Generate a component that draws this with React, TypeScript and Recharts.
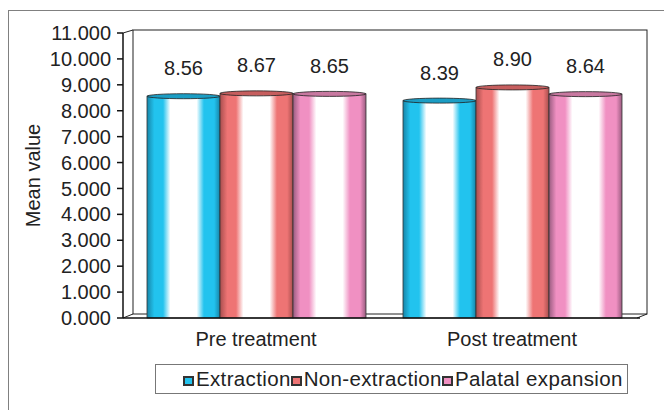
import React from 'react';
import { BarChart, Bar, XAxis, YAxis, LabelList } from 'recharts';

const categories = ['Pre treatment', 'Post treatment'];
const extraction = [8.56, 8.39];
const nonExtraction = [8.67, 8.9];
const palatalExpansion = [8.65, 8.64];
const yTicks = [0, 1, 2, 3, 4, 5, 6, 7, 8, 9, 10, 11];

const data = categories.map((name, i) => ({
  name,
  extraction: extraction[i],
  nonExtraction: nonExtraction[i],
  palatal: palatalExpansion[i],
}));

const SERIES = [
  { key: 'extraction', label: 'Extraction', color: '#22c3ee', dark: '#1785a8', top: '#1b9dc4' },
  { key: 'nonExtraction', label: 'Non-extraction', color: '#ee7474', dark: '#a84e4e', top: '#c65e5e' },
  { key: 'palatal', label: 'Palatal expansion', color: '#f090c2', dark: '#9a5c80', top: '#c878a0' },
];

const FONT = '"Liberation Sans", Arial, sans-serif';

function cylinder(s: (typeof SERIES)[number]) {
  return (props: any) => {
    const { x, y, width, height } = props;
    if (height == null || height <= 0) return null;
    return (
      <g>
        <rect x={x} y={y} width={width} height={height} fill={`url(#grad-${s.key})`} stroke="#333" strokeWidth={0.8} />
        <ellipse cx={x + width / 2} cy={y} rx={width / 2} ry={2.5} fill={s.top} stroke="#222" strokeWidth={0.8} />
      </g>
    );
  };
}

function LegendBox() {
  return (
    <div
      style={{
        position: 'absolute',
        left: 155,
        top: 364,
        width: 473,
        height: 30,
        border: '1px solid #777',
        display: 'flex',
        alignItems: 'center',
        paddingLeft: 27,
        boxSizing: 'border-box',
        fontFamily: FONT,
        fontSize: 20.5,
        letterSpacing: 0.35,
        color: '#222',
        background: '#fff',
        whiteSpace: 'nowrap',
      }}
    >
      {SERIES.map((s) => (
        <span key={s.key} style={{ display: 'flex', alignItems: 'center' }}>
          <span
            style={{
              display: 'inline-block',
              width: 7,
              height: 6,
              background: s.color,
              border: '2px solid #333',
              marginRight: 2,
              marginTop: 3,
            }}
          />
          {s.label}
        </span>
      ))}
    </div>
  );
}

export default function App() {
  return (
    <div style={{ position: 'absolute', left: 0, top: 0, width: 664, height: 410, overflow: 'hidden', background: '#fff' }}>
      <div style={{ position: 'absolute', left: 8, top: 10, width: 700, height: 430, border: '1px solid #808080' }} />
      <svg style={{ position: 'absolute', left: 0, top: 0 }} width={664} height={410}>
        <rect x={133} y={30} width={514} height={284} fill="#fff" stroke="#222" strokeWidth={1} />
        <line x1={123} y1={33} x2={133} y2={30} stroke="#222" strokeWidth={1} />
        <line x1={123} y1={318} x2={133} y2={314} stroke="#222" strokeWidth={1} />
        <line x1={637} y1={318} x2={647} y2={314} stroke="#222" strokeWidth={1} />
      </svg>
      <div style={{ position: 'absolute', left: 0, top: 0 }}>
        <BarChart
          width={664}
          height={410}
          data={data}
          margin={{ top: 33, right: 24, bottom: 62, left: 0 }}
          barGap={0}
          barSize={73}
        >
          <defs>
            {SERIES.map((s) => (
              <linearGradient key={s.key} id={`grad-${s.key}`} x1="0" y1="0" x2="1" y2="0">
                <stop offset="0%" stopColor={s.dark} />
                <stop offset="10%" stopColor={s.color} />
                <stop offset="22%" stopColor={s.color} />
                <stop offset="32%" stopColor="#ffffff" />
                <stop offset="68%" stopColor="#ffffff" />
                <stop offset="78%" stopColor={s.color} />
                <stop offset="92%" stopColor={s.color} />
                <stop offset="100%" stopColor={s.dark} />
              </linearGradient>
            ))}
          </defs>
          <XAxis
            dataKey="name"
            height={30}
            padding={{ left: 5, right: 0 }}
            axisLine={{ stroke: '#111', strokeWidth: 1.5 }}
            tickLine={false}
            tick={{ fill: '#222', fontSize: 20, fontFamily: FONT }}
            tickMargin={8}
          />
          <YAxis
            domain={[0, 11]}
            ticks={yTicks}
            interval={0}
            width={123}
            tickFormatter={(v: number) => v.toFixed(3)}
            axisLine={{ stroke: '#111', strokeWidth: 1.5 }}
            tickLine={{ stroke: '#111', strokeWidth: 1.5 }}
            tickSize={6}
            tickMargin={6}
            tick={{ fill: '#222', fontSize: 20, fontFamily: FONT }}
            label={{
              value: 'Mean value',
              angle: -90,
              position: 'insideLeft',
              offset: 33,
              style: { fill: '#222', fontSize: 20, fontFamily: FONT, textAnchor: 'middle' },
            }}
          />
          {SERIES.map((s) => (
            <Bar key={s.key} dataKey={s.key} name={s.label} isAnimationActive={false} shape={cylinder(s)}>
              <LabelList
                dataKey={s.key}
                position="top"
                offset={21}
                formatter={(v: any) => Number(v).toFixed(2)}
                style={{ fill: '#222', fontSize: 20, fontFamily: FONT }}
              />
            </Bar>
          ))}
        </BarChart>
      </div>
      <LegendBox />
    </div>
  );
}
